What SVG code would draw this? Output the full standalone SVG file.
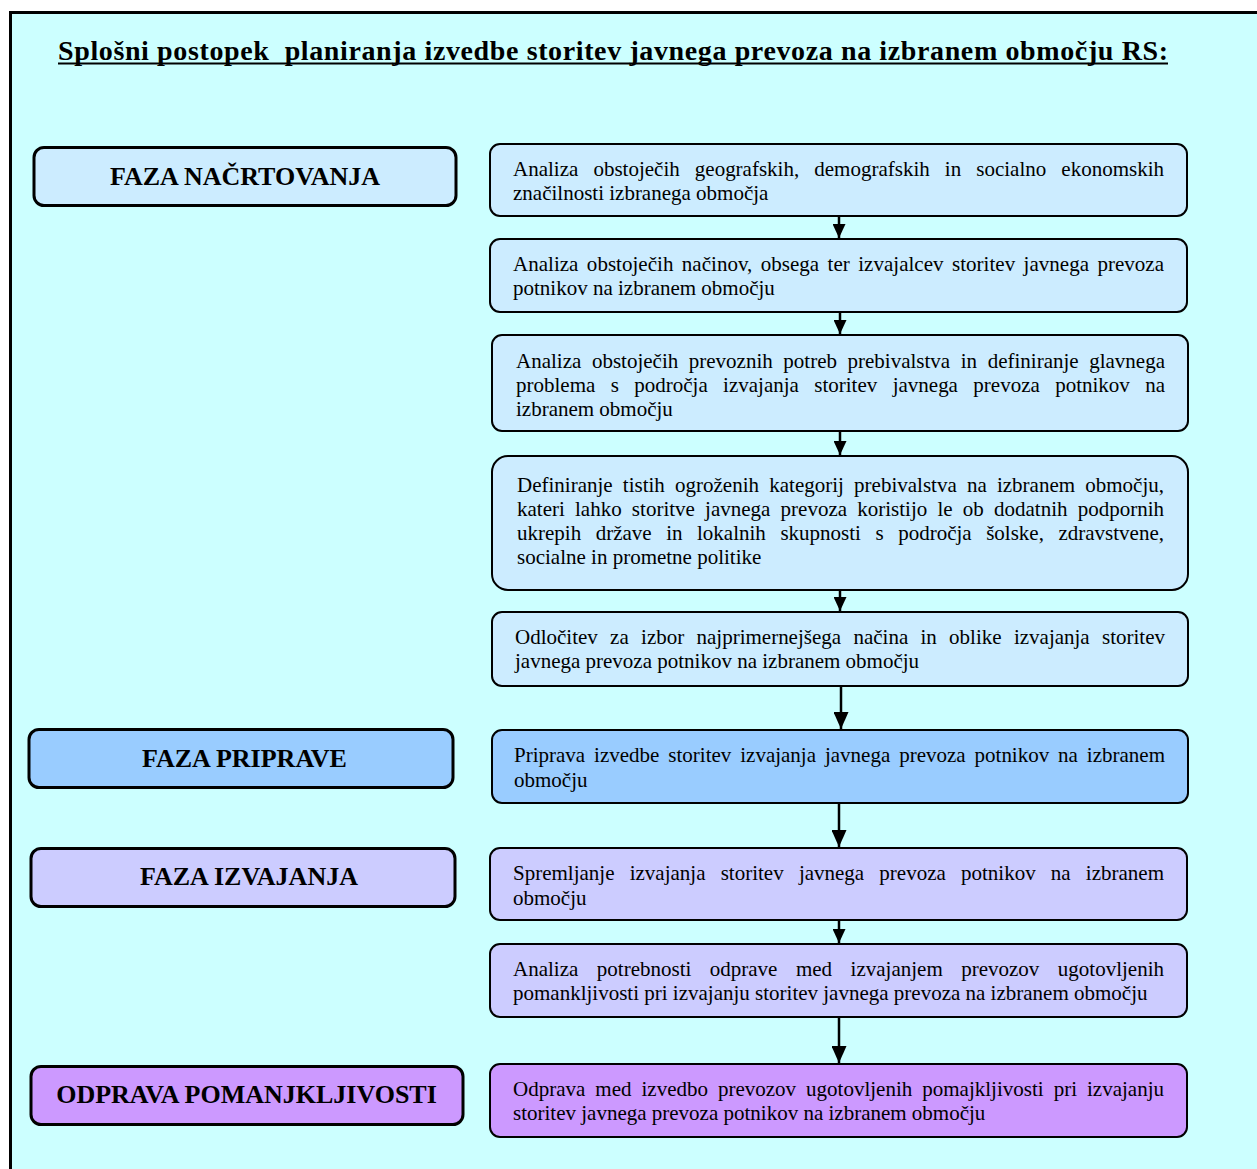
<svg xmlns="http://www.w3.org/2000/svg" width="1257" height="1169" viewBox="0 0 1257 1169">
<defs>
<style>
.frame{fill:#CCFFFF;stroke:#000;stroke-width:3}
.ph{stroke:#000;stroke-width:3}
.st{stroke:#000;stroke-width:2}
.c1{fill:#CCECFF}
.c2{fill:#99CCFF}
.c3{fill:#CCCCFF}
.c4{fill:#CC99FF}
.ht{font-family:"Liberation Serif","Times New Roman",serif;font-weight:bold;font-size:26px;text-anchor:middle;fill:#000}
.bt{font-family:"Liberation Serif","Times New Roman",serif;font-size:21px;fill:#000}
.title{font-family:"Liberation Serif","Times New Roman",serif;font-weight:bold;font-size:28px;fill:#000}
.conn{stroke:#000;stroke-width:2.5;fill:none}
</style>
<marker id="arrS" markerUnits="userSpaceOnUse" markerWidth="14" markerHeight="13" refX="14" refY="6.5" orient="auto" viewBox="0 0 14 13">
<path d="M0,0 L14,6.5 L0,13 Z" fill="#000"/>
</marker>
<marker id="arrL" markerUnits="userSpaceOnUse" markerWidth="17" markerHeight="15" refX="17" refY="7.5" orient="auto" viewBox="0 0 17 15">
<path d="M0,0 L17,7.5 L0,15 Z" fill="#000"/>
</marker>
</defs>
<rect x="0" y="0" width="1257" height="1169" fill="#fff"/>
<rect class="frame" x="10.5" y="12.5" width="1260" height="1170"/>
<g id="title">
<text class="title" x="58" y="60" xml:space="preserve" textLength="1110" lengthAdjust="spacing">Splošni postopek  planiranja izvedbe storitev javnega prevoza na izbranem območju RS:</text>
<line x1="58" y1="63.5" x2="1168" y2="63.5" stroke="#000" stroke-width="2"/>
</g>
<g id="phase-nacrtovanje">
<rect class="ph c1" x="34" y="147.5" width="422" height="58" rx="10"/>
<text class="ht" x="245" y="185">FAZA NAČRTOVANJA</text>
</g>
<g id="phase-priprave">
<rect class="ph c2" x="29" y="729.5" width="424" height="58" rx="10"/>
<text class="ht" x="244.5" y="767">FAZA PRIPRAVE</text>
</g>
<g id="phase-izvajanja">
<rect class="ph c3" x="31" y="848.5" width="424" height="58" rx="10"/>
<text class="ht" x="249" y="885">FAZA IZVAJANJA</text>
</g>
<g id="phase-odprava">
<rect class="ph c4" x="31" y="1066.5" width="432" height="58" rx="10"/>
<text class="ht" x="246.5" y="1103">ODPRAVA POMANJKLJIVOSTI</text>
</g>
<g id="step1">
<rect class="st c1" x="490" y="144" width="697" height="72" rx="10"/>
<text class="bt" x="513" y="176" word-spacing="9.83" textLength="651" lengthAdjust="spacing">Analiza obstoječih geografskih, demografskih in socialno ekonomskih</text>
<text class="bt" x="513" y="200">značilnosti izbranega območja</text>
</g>
<g id="step2">
<rect class="st c1" x="490" y="239" width="697" height="73" rx="10"/>
<text class="bt" x="513" y="271" word-spacing="3.15" textLength="651" lengthAdjust="spacing">Analiza obstoječih načinov, obsega ter izvajalcev storitev javnega prevoza</text>
<text class="bt" x="513" y="295">potnikov na izbranem območju</text>
</g>
<g id="step3">
<rect class="st c1" x="492" y="335" width="696" height="96" rx="10"/>
<text class="bt" x="516" y="368" word-spacing="5.32" textLength="649" lengthAdjust="spacing">Analiza obstoječih prevoznih potreb prebivalstva in definiranje glavnega</text>
<text class="bt" x="516" y="392" word-spacing="10.12" textLength="649" lengthAdjust="spacing">problema s področja izvajanja storitev javnega prevoza potnikov na</text>
<text class="bt" x="516" y="416">izbranem območju</text>
</g>
<g id="step4">
<rect class="st c1" x="492" y="456" width="696" height="134" rx="16"/>
<text class="bt" x="517" y="492" word-spacing="4.94" textLength="647" lengthAdjust="spacing">Definiranje tistih ogroženih kategorij prebivalstva na izbranem območju,</text>
<text class="bt" x="517" y="516" word-spacing="4.94" textLength="647" lengthAdjust="spacing">kateri lahko storitve javnega prevoza koristijo le ob dodatnih podpornih</text>
<text class="bt" x="517" y="540" word-spacing="9.28" textLength="647" lengthAdjust="spacing">ukrepih države in lokalnih skupnosti s področja šolske, zdravstvene,</text>
<text class="bt" x="517" y="564">socialne in prometne politike</text>
</g>
<g id="step5">
<rect class="st c1" x="492" y="612" width="696" height="74" rx="10"/>
<text class="bt" x="515" y="644" word-spacing="7.04" textLength="650" lengthAdjust="spacing">Odločitev za izbor najprimernejšega načina in oblike izvajanja storitev</text>
<text class="bt" x="515" y="668">javnega prevoza potnikov na izbranem območju</text>
</g>
<g id="step6">
<rect class="st c2" x="492" y="730" width="696" height="73" rx="10"/>
<text class="bt" x="514" y="762" word-spacing="3.66" textLength="651" lengthAdjust="spacing">Priprava izvedbe storitev izvajanja javnega prevoza potnikov na izbranem</text>
<text class="bt" x="514" y="787">območju</text>
</g>
<g id="step7">
<rect class="st c3" x="490" y="848" width="697" height="72" rx="10"/>
<text class="bt" x="513" y="880" word-spacing="9.94" textLength="651" lengthAdjust="spacing">Spremljanje izvajanja storitev javnega prevoza potnikov na izbranem</text>
<text class="bt" x="513" y="905">območju</text>
</g>
<g id="step8">
<rect class="st c3" x="490" y="944" width="697" height="73" rx="10"/>
<text class="bt" x="513" y="976" word-spacing="13.23" textLength="651" lengthAdjust="spacing">Analiza potrebnosti odprave med izvajanjem prevozov ugotovljenih</text>
<text class="bt" x="513" y="1000">pomankljivosti pri izvajanju storitev javnega prevoza na izbranem območju</text>
</g>
<g id="step9">
<rect class="st c4" x="490" y="1064" width="697" height="73" rx="10"/>
<text class="bt" x="513" y="1096" word-spacing="4.76" textLength="651" lengthAdjust="spacing">Odprava med izvedbo prevozov ugotovljenih pomajkljivosti pri izvajanju</text>
<text class="bt" x="513" y="1120">storitev javnega prevoza potnikov na izbranem območju</text>
</g>
<g id="connectors">
<line class="conn" x1="839" y1="217" x2="839" y2="238" marker-end="url(#arrS)"/>
<line class="conn" x1="840" y1="313" x2="840" y2="334" marker-end="url(#arrS)"/>
<line class="conn" x1="840" y1="432" x2="840" y2="455" marker-end="url(#arrS)"/>
<line class="conn" x1="840" y1="591" x2="840" y2="611" marker-end="url(#arrS)"/>
<line class="conn" x1="841" y1="687" x2="841" y2="729" marker-end="url(#arrL)"/>
<line class="conn" x1="839" y1="804" x2="839" y2="847" marker-end="url(#arrL)"/>
<line class="conn" x1="839" y1="921" x2="839" y2="943" marker-end="url(#arrS)"/>
<line class="conn" x1="839" y1="1018" x2="839" y2="1063" marker-end="url(#arrL)"/>
</g>
</svg>
